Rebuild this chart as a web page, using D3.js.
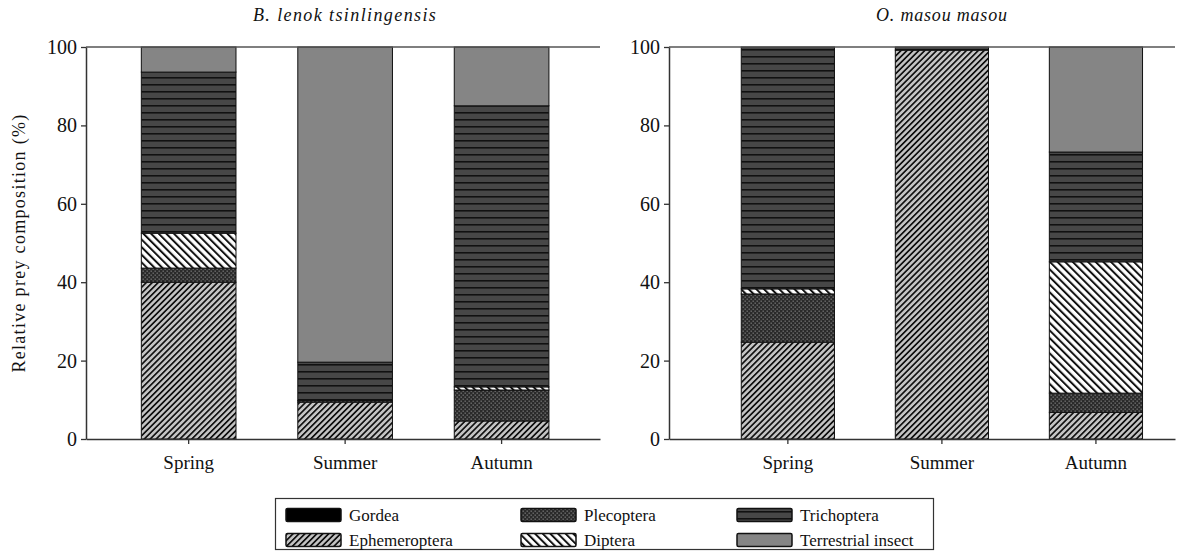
<!DOCTYPE html>
<html>
<head>
<meta charset="utf-8">
<script src="https://cdn.jsdelivr.net/npm/d3@7"></script>
<style>
  html, body { margin: 0; padding: 0; background: #fff; }
  svg { display: block; }
  text { font-family: "Liberation Serif", "Times New Roman", serif; fill: #111; }
</style>
</head>
<body>
<svg id="chart" width="1193" height="556"></svg>
<script>
// Seasons on the x axis and prey groups in stacking order (bottom to top)
const seasons = ["Spring", "Summer", "Autumn"];
const preyGroups = ["Gordea", "Ephemeroptera", "Plecoptera", "Diptera", "Trichoptera", "Terrestrial insect"];
const yTicks = [0, 20, 40, 60, 80, 100];

// B. lenok tsinlingensis — relative prey composition (%) per season
const lenokGordea        = [0, 0, 0];
const lenokEphemeroptera = [40.0, 9.4, 4.6];
const lenokPlecoptera    = [3.6, 0.4, 7.9];
const lenokDiptera       = [8.9, 0.0, 0.8];
const lenokTrichoptera   = [41.1, 9.8, 71.7];
const lenokTerrestrial   = [6.4, 80.4, 15.0];

// O. masou masou — relative prey composition (%) per season
const masouGordea        = [0, 0, 0];
const masouEphemeroptera = [24.7, 99.2, 6.8];
const masouPlecoptera    = [12.3, 0.0, 4.9];
const masouDiptera       = [1.3, 0.0, 33.5];
const masouTrichoptera   = [61.7, 0.8, 28.0];
const masouTerrestrial   = [0.0, 0.0, 26.8];

function buildRows(g, e, p, d, t, ti) {
  return seasons.map((s, i) => ({
    season: s,
    "Gordea": g[i], "Ephemeroptera": e[i], "Plecoptera": p[i],
    "Diptera": d[i], "Trichoptera": t[i], "Terrestrial insect": ti[i]
  }));
}

const panels = [
  { title: "B. lenok tsinlingensis", spacing: 1.4, x0: 86, x1: 600, align: 0.52,
    rows: buildRows(lenokGordea, lenokEphemeroptera, lenokPlecoptera, lenokDiptera, lenokTrichoptera, lenokTerrestrial) },
  { title: "O. masou masou", spacing: 0.8, x0: 669, x1: 1175, align: 0.69,
    rows: buildRows(masouGordea, masouEphemeroptera, masouPlecoptera, masouDiptera, masouTrichoptera, masouTerrestrial) }
];

const svg = d3.select("#chart");
const defs = svg.append("defs");

// Fill patterns for each prey group
function stripePattern(id, bg, w, lineW, angle) {
  const p = defs.append("pattern").attr("id", id)
    .attr("patternUnits", "userSpaceOnUse")
    .attr("width", w).attr("height", w)
    .attr("patternTransform", `rotate(${angle})`);
  p.append("rect").attr("width", w).attr("height", w).attr("fill", bg);
  p.append("rect").attr("x", 0).attr("y", 0).attr("width", lineW).attr("height", w).attr("fill", "#111");
}
stripePattern("pat-eph", "#c4c4c4", 4.2, 1.7, 45);
stripePattern("pat-dip", "#ffffff", 5.4, 2.0, -45);

const ple = defs.append("pattern").attr("id", "pat-ple")
  .attr("patternUnits", "userSpaceOnUse").attr("width", 4).attr("height", 4);
ple.append("rect").attr("width", 4).attr("height", 4).attr("fill", "#2a2a2a");
ple.append("rect").attr("x", 0.5).attr("y", 0.5).attr("width", 1.4).attr("height", 1.4).attr("fill", "#6e6e6e");
ple.append("rect").attr("x", 2.5).attr("y", 2.5).attr("width", 1.4).attr("height", 1.4).attr("fill", "#6e6e6e");

const tri = defs.append("pattern").attr("id", "pat-tri")
  .attr("patternUnits", "userSpaceOnUse").attr("width", 8).attr("height", 7);
tri.append("rect").attr("width", 8).attr("height", 7).attr("fill", "#474747");
tri.append("rect").attr("y", 0).attr("width", 8).attr("height", 1.6).attr("fill", "#111");

const fills = d3.scaleOrdinal()
  .domain(preyGroups)
  .range(["#000000", "url(#pat-eph)", "url(#pat-ple)", "url(#pat-dip)", "url(#pat-tri)", "#858585"]);

const y = d3.scaleLinear().domain([0, 100]).range([439, 47]);
const stack = d3.stack().keys(preyGroups);

panels.forEach((pn, pi) => {
  const x = d3.scaleBand().domain(seasons)
    .range([pn.x0, pn.x1]).paddingInner(0.395).paddingOuter(0.34).align(pn.align);
  const g = svg.append("g");
  const series = stack(pn.rows);

  g.selectAll("g.layer").data(series).join("g")
    .attr("class", "layer")
    .attr("fill", d => fills(d.key))
    .selectAll("rect").data(d => d.filter(s => s[1] - s[0] > 0)).join("rect")
      .attr("x", d => x(d.data.season))
      .attr("width", x.bandwidth())
      .attr("y", d => y(d[1]))
      .attr("height", d => y(d[0]) - y(d[1]))
      .attr("stroke", "#111").attr("stroke-width", 1);

  // frame top line
  g.append("line").attr("x1", pn.x0).attr("x2", pn.x1)
    .attr("y1", y(100)).attr("y2", y(100))
    .attr("stroke", "#555").attr("stroke-width", 1.5);

  const yAxis = g.append("g").attr("transform", `translate(${pn.x0},0)`)
    .call(d3.axisLeft(y).tickValues(yTicks).tickSize(5).tickSizeOuter(0).tickPadding(4));
  const xAxis = g.append("g").attr("transform", `translate(0,${y(0)})`)
    .call(d3.axisBottom(x).tickSize(5).tickSizeOuter(0).tickPadding(12));
  [yAxis, xAxis].forEach(a => {
    a.select(".domain").attr("stroke", "#333").attr("stroke-width", 1.5);
    a.selectAll(".tick line").attr("stroke", "#333").attr("stroke-width", 1.3);
    a.selectAll("text").attr("fill", "#111")
      .attr("font-family", "Liberation Serif, Times New Roman, serif");
  });
  yAxis.selectAll("text").attr("font-size", 20);
  xAxis.selectAll("text").attr("font-size", 19);

  svg.append("text")
    .attr("x", x("Summer") + x.bandwidth() / 2).attr("y", 21)
    .attr("text-anchor", "middle").attr("font-size", 18).attr("font-style", "italic")
    .attr("letter-spacing", pn.spacing)
    .text(pn.title);
});

// y axis title
svg.append("text")
  .attr("transform", "translate(25,243) rotate(-90)")
  .attr("text-anchor", "middle").attr("font-size", 18).attr("letter-spacing", 1.3)
  .text("Relative prey composition (%)");

// legend
const legend = svg.append("g");
legend.append("rect").attr("x", 275.5).attr("y", 498.5).attr("width", 658).attr("height", 51)
  .attr("fill", "#fff").attr("stroke", "#333").attr("stroke-width", 1.2);
const legendCols = [286, 521, 737];
const legendRows = [515, 540];
const legendOrder = ["Gordea", "Plecoptera", "Trichoptera", "Ephemeroptera", "Diptera", "Terrestrial insect"];
legendOrder.forEach((k, i) => {
  const cx = legendCols[i % 3], cy = legendRows[Math.floor(i / 3)];
  legend.append("rect").attr("x", cx).attr("y", cy - 6.5).attr("width", 55).attr("height", 13)
    .attr("rx", 1.5).attr("fill", fills(k)).attr("stroke", "#111").attr("stroke-width", 1.5);
  legend.append("text").attr("x", cx + 63).attr("y", cy).attr("dy", "0.35em")
    .attr("font-size", 17).text(k);
});
</script>
</body>
</html>
